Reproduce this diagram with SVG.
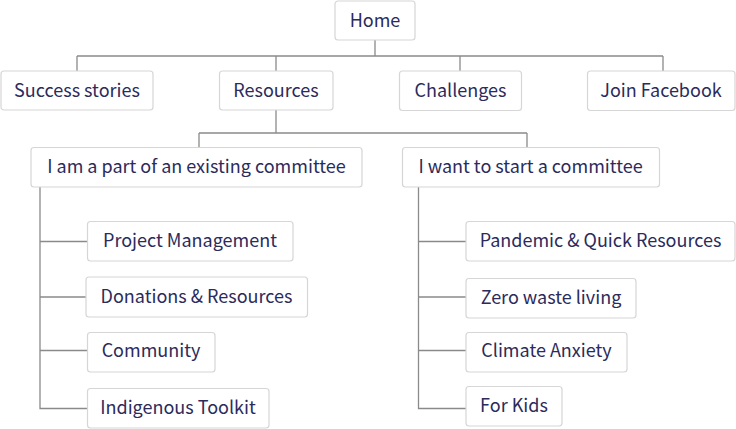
<svg xmlns="http://www.w3.org/2000/svg" width="736" height="429" viewBox="0 0 736 429">
<style>
.box{fill:#fff;stroke:#d6d6d6;stroke-width:1.2}
.lbl{font-family:"Noto Sans CJK KR","Noto Sans",sans-serif;font-size:18px;fill:#2b2b5c;text-anchor:middle}
.con{fill:none;stroke:#8a8a8a;stroke-width:1.3}
</style>
<rect width="736" height="429" fill="#fff"/>
<g id="connectors" class="con">
<path d="M375 40V56M77 56H663M77 56V71M276 56V71M460 56V71M663 56V71"/>
<path d="M276 110V133M199 133H527M199 133V148M527 133V148"/>
<path d="M40 187V408.5H87M40 241.5H87M40 297H86M40 350.5H87"/>
<path d="M418.5 187V408.5H466M418.5 241.5H466M418.5 297H466M418.5 350.5H466"/>
</g>
<g id="home"><rect class="box" x="335" y="1" width="80" height="39" rx="3"/><text class="lbl" x="375" y="26.5">Home</text></g>
<g id="success"><rect class="box" x="1" y="71" width="152" height="39" rx="3"/><text class="lbl" x="77" y="96.5">Success stories</text></g>
<g id="resources"><rect class="box" x="219.5" y="71" width="113.5" height="39" rx="3"/><text class="lbl" x="276" y="96.5">Resources</text></g>
<g id="challenges"><rect class="box" x="399.5" y="71" width="122" height="39.5" rx="3"/><text class="lbl" x="460.5" y="96.5">Challenges</text></g>
<g id="facebook"><rect class="box" x="587.5" y="71" width="147.5" height="39.5" rx="3"/><text class="lbl" x="661" y="96.5">Join Facebook</text></g>
<g id="existing"><rect class="box" x="31" y="147.5" width="331" height="39.5" rx="3"/><text class="lbl" x="196.5" y="173">I am a part of an existing committee</text></g>
<g id="start"><rect class="box" x="402.5" y="147.5" width="257" height="39.5" rx="3"/><text class="lbl" x="530.5" y="173">I want to start a committee</text></g>
<g id="project"><rect class="box" x="87.5" y="221.5" width="205.5" height="39.5" rx="3"/><text class="lbl" x="190" y="247">Project Management</text></g>
<g id="donations"><rect class="box" x="86" y="277" width="221.5" height="40" rx="3"/><text class="lbl" x="196.5" y="303">Donations &amp; Resources</text></g>
<g id="community"><rect class="box" x="87.5" y="332.5" width="127.5" height="39.5" rx="3"/><text class="lbl" x="151" y="357">Community</text></g>
<g id="indigenous"><rect class="box" x="87.5" y="388.5" width="181.5" height="39.5" rx="3"/><text class="lbl" x="178" y="414">Indigenous Toolkit</text></g>
<g id="pandemic"><rect class="box" x="466" y="221.5" width="269" height="39.5" rx="3"/><text class="lbl" x="600.5" y="247">Pandemic &amp; Quick Resources</text></g>
<g id="zerowaste"><rect class="box" x="466" y="278.5" width="170" height="39.5" rx="3"/><text class="lbl" x="551" y="303.5">Zero waste living</text></g>
<g id="climate"><rect class="box" x="466" y="332.5" width="161" height="39.5" rx="3"/><text class="lbl" x="546.5" y="357">Climate Anxiety</text></g>
<g id="kids"><rect class="box" x="466" y="386.5" width="96" height="39.5" rx="3"/><text class="lbl" x="514" y="412">For Kids</text></g>
</svg>
